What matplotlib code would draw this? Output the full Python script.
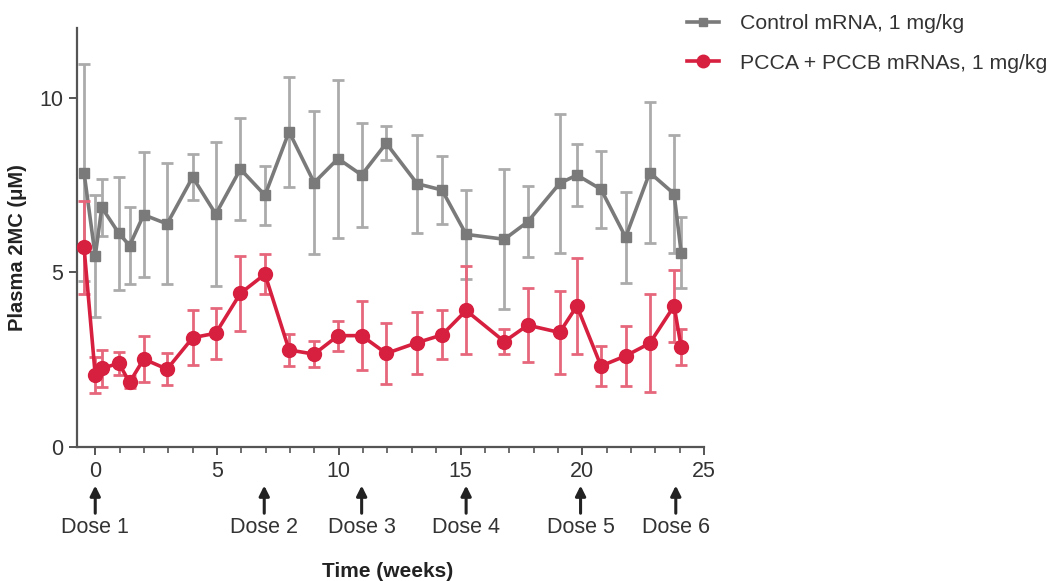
import matplotlib
matplotlib.use("Agg")
import matplotlib.pyplot as plt
from matplotlib.lines import Line2D
from matplotlib.ticker import MultipleLocator

plt.rcParams["font.family"] = ["Liberation Sans", "DejaVu Sans"]

# sampling times (weeks)
weeks = [-0.46, 0.0, 0.27, 0.97, 1.41, 1.99, 2.95, 4.0, 4.95, 5.96, 6.97, 7.96,
         8.99, 9.97, 10.94, 11.95, 13.22, 14.24, 15.23, 16.8, 17.76, 19.07,
         19.78, 20.77, 21.78, 22.77, 23.77, 24.06]

ctrl_mean = [7.86, 5.47, 6.86, 6.12, 5.77, 6.65, 6.39, 7.73, 6.67, 7.96, 7.21, 9.03,
             7.57, 8.26, 7.79, 8.70, 7.54, 7.36, 6.09, 5.95, 6.45, 7.55,
             7.79, 7.38, 6.01, 7.86, 7.25, 5.57]
ctrl_sd = [3.11, 1.75, 0.82, 1.62, 1.10, 1.79, 1.73, 0.65, 2.07, 1.45, 0.85, 1.57,
           2.05, 2.26, 1.49, 0.48, 1.41, 0.97, 1.27, 2.00, 1.02, 2.00,
           0.90, 1.10, 1.30, 2.03, 1.69, 1.03]

pcc_mean = [5.72, 2.06, 2.25, 2.40, 1.85, 2.52, 2.23, 3.13, 3.26, 4.40, 4.95, 2.78,
            2.66, 3.19, 3.19, 2.68, 2.99, 3.21, 3.91, 3.02, 3.49, 3.28,
            4.04, 2.32, 2.61, 2.97, 4.04, 2.87]
pcc_sd = [1.33, 0.51, 0.52, 0.33, 0.17, 0.66, 0.45, 0.79, 0.73, 1.08, 0.57, 0.45,
          0.38, 0.43, 0.99, 0.87, 0.89, 0.70, 1.26, 0.36, 1.06, 1.18,
          1.38, 0.58, 0.85, 1.40, 1.02, 0.51]

dose_weeks = [0.0, 6.94, 10.94, 15.23, 19.93, 23.84]
dose_labels = ["Dose 1", "Dose 2", "Dose 3", "Dose 4", "Dose 5", "Dose 6"]

GRAY, GRAY_ERR = "#7a7a7a", "#ababab"
RED, RED_ERR = "#d71f3f", "#e6677c"
AXC = "#555555"
TXT = "#333333"

fig = plt.figure(figsize=(10.53, 5.81), dpi=100)
ax = fig.add_axes([0.0731, 0.2306, 0.5955, 0.7212])

ax.errorbar(weeks, ctrl_mean, yerr=ctrl_sd, color=GRAY, ecolor=GRAY_ERR,
            elinewidth=2, capsize=4, capthick=2, lw=2.6, marker="s", ms=7,
            zorder=2)
ax.errorbar(weeks, pcc_mean, yerr=pcc_sd, color=RED, ecolor=RED_ERR,
            elinewidth=2, capsize=4, capthick=2, lw=2.6, marker="o", ms=10,
            zorder=3)

ax.set_xlim(-0.75, 25)
ax.set_ylim(0, 12)
ax.set_xticks([0, 5, 10, 15, 20, 25])
ax.xaxis.set_minor_locator(MultipleLocator(1))
ax.set_yticks([0, 5, 10])
for s in ("top", "right"):
    ax.spines[s].set_visible(False)
for s in ("left", "bottom"):
    ax.spines[s].set_color(AXC)
    ax.spines[s].set_linewidth(1.6)
ax.tick_params(which="major", length=6, width=1.4, color=AXC, labelsize=15.5,
               labelcolor=TXT, pad=4)
ax.tick_params(which="minor", length=4, width=1.2, color=AXC)

ax.set_ylabel("Plasma 2MC (\u03bcM)", fontsize=14.5, fontweight="bold",
              color="#222222")
ax.yaxis.set_label_coords(-0.08, 0.477)

tr = ax.get_xaxis_transform()
for xd, lab in zip(dose_weeks, dose_labels):
    ax.annotate("", xy=(xd, -0.092), xytext=(xd, -0.158), xycoords=tr,
                textcoords=tr, annotation_clip=False,
                arrowprops=dict(arrowstyle="-|>,head_length=0.6,head_width=0.3",
                                color="#222222", lw=2.2, shrinkA=0, shrinkB=0))
    ax.text(xd, -0.192, lab, transform=tr, ha="center", va="center",
            fontsize=15.5, color=TXT)

ax.text(12.0, -0.297, "Time (weeks)", transform=tr, ha="center", va="center",
        fontsize=15, fontweight="bold", color="#222222")

handles = [Line2D([], [], color=GRAY, lw=2.6, marker="s", ms=6),
           Line2D([], [], color=RED, lw=2.6, marker="o", ms=9)]
fig.legend(handles, ["Control mRNA, 1 mg/kg", "PCCA + PCCB mRNAs, 1 mg/kg"],
           loc="upper left", bbox_to_anchor=(0.634, 1.008), frameon=False,
           fontsize=15.3, handlelength=1.5, handletextpad=1.0, labelspacing=0.95,
           labelcolor=TXT)

fig.savefig("out.png", dpi=100, facecolor="white")
